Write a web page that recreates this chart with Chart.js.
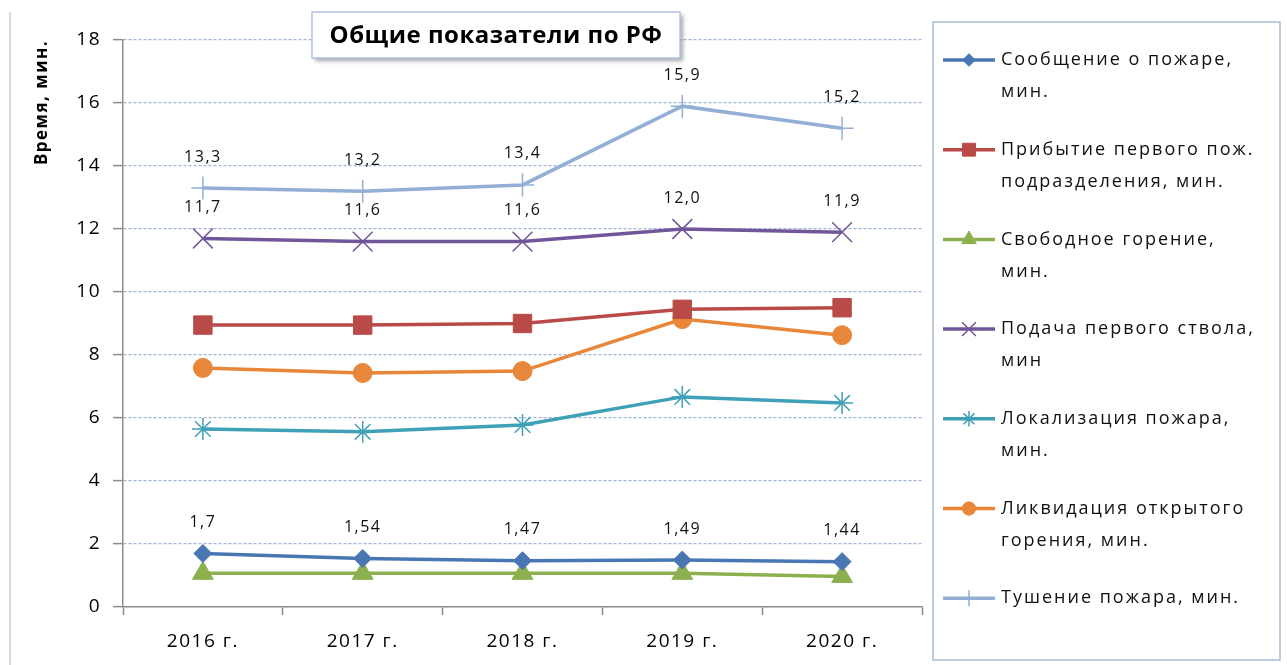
<!DOCTYPE html>
<html lang="ru">
<head>
<meta charset="utf-8">
<title>Общие показатели по РФ</title>
<script src="https://cdn.jsdelivr.net/npm/chart.js@4.4.1/dist/chart.umd.min.js"></script>
<style>
  html, body { margin: 0; padding: 0; background: #fff; }
</style>
</head>
<body>
<canvas id="fireChart" width="1287" height="665"></canvas>
<script>
// data
const years = ['2016 г.', '2017 г.', '2018 г.', '2019 г.', '2020 г.'];
const yMin = 0, yMax = 18, yStep = 2;

const reportTime    = [1.7, 1.54, 1.47, 1.49, 1.44];
const arrivalTime   = [8.95, 8.95, 9.0, 9.45, 9.5];
const freeBurning   = [1.07, 1.07, 1.07, 1.07, 0.97];
const firstNozzle   = [11.7, 11.6, 11.6, 12.0, 11.9];
const localization  = [5.65, 5.56, 5.78, 6.67, 6.48];
const openFireEnd   = [7.59, 7.43, 7.49, 9.14, 8.63];
const extinguishing = [13.3, 13.2, 13.4, 15.9, 15.2];

const seriesNames = [
    'Сообщение о пожаре,\nмин.',
    'Прибытие первого пож.\nподразделения, мин.',
    'Свободное горение,\nмин.',
    'Подача первого ствола,\nмин',
    'Локализация пожара,\nмин.',
    'Ликвидация открытого\nгорения, мин.',
    'Тушение пожара, мин.'
];
const seriesData = [reportTime, arrivalTime, freeBurning, firstNozzle, localization, openFireEnd, extinguishing];
// null = no value labels, 'raw' = as written, 1 = one decimal
const labelFormat = ['raw', null, null, 1, null, null, 1];

// looks
const colors  = ['#4877b4', '#b94a47', '#8db04f', '#71569a', '#3fa0b8', '#e8873a', '#93afd6'];
const markers = ['rectRot', 'rect', 'triangle', 'crossRot', 'star', 'circle', 'cross'];
const radii   = [9, 13, 12, 14, 11, 9.5, 11.5];
const markerLineWidth = [1, 1, 1, 1.5, 1.5, 1, 1.5];

const FONT = "'Open Sans', 'DejaVu Sans', sans-serif";
const axisGray = '#8c8c8c';
const gridBlue = '#9fb5da';

const datasets = seriesData.map((data, i) => ({
    label: seriesNames[i].replace('\n', ' '),
    data: data,
    borderColor: colors[i],
    backgroundColor: colors[i],
    borderWidth: 3.5,
    tension: 0,
    pointStyle: markers[i],
    pointRadius: radii[i],
    pointBorderWidth: markerLineWidth[i],
    pointBackgroundColor: colors[i],
    pointBorderColor: colors[i],
    order: i
}));

function fmt(v, f) {
    if (f === 'raw') return String(v).replace('.', ',');
    return v.toFixed(f).replace('.', ',');
}

const decorPlugin = {
    id: 'decor',
    beforeDraw(chart) {
        const ctx = chart.ctx;
        ctx.letterSpacing = '1.5px';
        // thin frame line on the left
        ctx.save();
        ctx.strokeStyle = '#d9d9d9';
        ctx.lineWidth = 2;
        ctx.beginPath();
        ctx.moveTo(10, 12);
        ctx.lineTo(10, 665);
        ctx.stroke();
        ctx.restore();
    },
    afterDatasetsDraw(chart) {
        const ctx = chart.ctx;
        ctx.save();
        ctx.font = '16px ' + FONT;
        ctx.letterSpacing = '1.5px';
        ctx.fillStyle = '#111';
        ctx.textAlign = 'center';
        ctx.textBaseline = 'middle';
        labelFormat.forEach((f, i) => {
            if (f === null) return;
            chart.getDatasetMeta(i).data.forEach((pt, j) => {
                ctx.fillText(fmt(seriesData[i][j], f), pt.x, pt.y - 31);
            });
        });
        ctx.restore();
    },
    afterDraw(chart) {
        const ctx = chart.ctx;
        ctx.save();

        // title box with shadow
        ctx.shadowColor = 'rgba(0,0,0,0.35)';
        ctx.shadowOffsetX = 3;
        ctx.shadowOffsetY = 3;
        ctx.shadowBlur = 4;
        ctx.fillStyle = '#fff';
        ctx.fillRect(312, 12, 368, 46);
        ctx.shadowColor = 'transparent';
        ctx.strokeStyle = '#b0c4e2';
        ctx.lineWidth = 1.5;
        ctx.strokeRect(312, 12, 368, 46);
        ctx.fillStyle = '#000';
        ctx.font = 'bold 24px ' + FONT;
        ctx.letterSpacing = '0.5px';
        ctx.textAlign = 'center';
        ctx.textBaseline = 'middle';
        ctx.fillText('Общие показатели по РФ', 496, 36);

        // legend
        ctx.strokeStyle = '#a9bcd9';
        ctx.lineWidth = 1.5;
        ctx.strokeRect(933, 22, 347, 638);
        ctx.font = '18px ' + FONT;
        ctx.letterSpacing = '2px';
        ctx.textAlign = 'left';
        seriesNames.forEach((name, i) => {
            const y = 60 + i * 89.7;
            ctx.strokeStyle = colors[i];
            ctx.fillStyle = colors[i];
            ctx.lineWidth = 3.5;
            ctx.beginPath();
            ctx.moveTo(943, y);
            ctx.lineTo(995, y);
            ctx.stroke();
            if (Chart.helpers && Chart.helpers.drawPoint) {
                ctx.lineWidth = markerLineWidth[i];
                Chart.helpers.drawPoint(ctx, {
                    pointStyle: markers[i],
                    radius: radii[i] * 0.7,
                    borderWidth: markerLineWidth[i],
                    rotation: 0
                }, 969, y);
            }
            ctx.fillStyle = '#111';
            name.split('\n').forEach((line, k) => {
                ctx.fillText(line, 1001, y + k * 32);
            });
        });
        ctx.restore();
        ctx.letterSpacing = '0px';
    }
};

new Chart(document.getElementById('fireChart').getContext('2d'), {
    type: 'line',
    data: { labels: years, datasets: datasets },
    options: {
        responsive: false,
        animation: false,
        events: [],
        layout: { padding: { left: 10, right: 365, top: 40, bottom: 8 } },
        plugins: {
            legend: { display: false },
            title: { display: false },
            tooltip: { enabled: false }
        },
        scales: {
            x: {
                offset: true,
                grid: {
                    offset: true,
                    drawOnChartArea: false,
                    drawTicks: true,
                    tickLength: 8,
                    tickColor: axisGray,
                    tickWidth: 1.5
                },
                border: { color: axisGray, width: 1.5 },
                ticks: {
                    color: '#000',
                    font: { family: FONT, size: 19 },
                    padding: 15,
                    maxRotation: 0
                },
                afterFit(scale) { scale.height = 50; }
            },
            y: {
                min: yMin,
                max: yMax,
                ticks: {
                    stepSize: yStep,
                    color: '#000',
                    font: { family: FONT, size: 19 },
                    padding: 12
                },
                grid: {
                    color: c => (c.tick && c.tick.value === 0) ? 'rgba(0,0,0,0)' : gridBlue,
                    lineWidth: 1.2,
                    tickLength: 10,
                    tickColor: axisGray,
                    tickWidth: 1.5
                },
                border: { color: axisGray, width: 1.5, dash: [3, 2] },
                title: {
                    display: true,
                    text: 'Время, мин.',
                    align: 'end',
                    color: '#000',
                    font: { family: FONT, size: 17, weight: 'bold' },
                    padding: { top: 22, bottom: 0 }
                },
                afterFit(scale) { scale.width = 113; }
            }
        }
    },
    plugins: [decorPlugin]
});
</script>
</body>
</html>
